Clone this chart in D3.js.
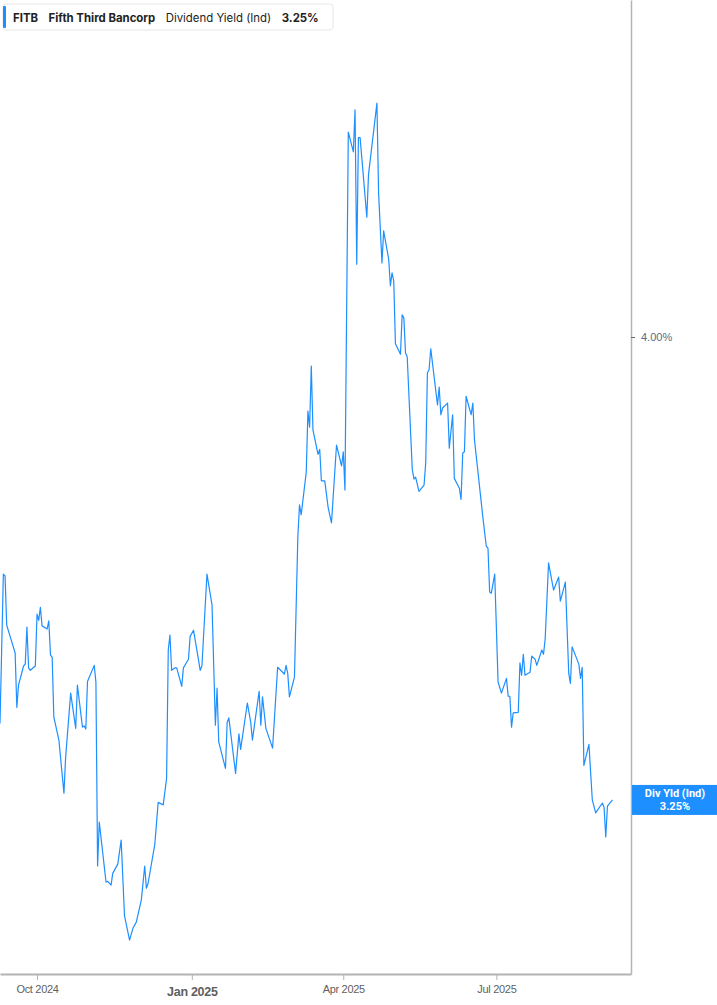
<!DOCTYPE html>
<html>
<head>
<meta charset="utf-8">
<script src="https://cdn.jsdelivr.net/npm/d3@7"></script>
<style>
  html, body { margin: 0; padding: 0; background: #fff; }
  svg { display: block; }
</style>
</head>
<body>
<div id="app"></div>
<script>
// FITB dividend yield (indicated), %
const DATES = [
  '2024-09-09','2024-09-11','2024-09-12','2024-09-13','2024-09-16','2024-09-18','2024-09-19','2024-09-20',
  '2024-09-23','2024-09-24','2024-09-25','2024-09-26','2024-09-27','2024-09-30','2024-10-01','2024-10-02',
  '2024-10-03','2024-10-04','2024-10-07','2024-10-08','2024-10-09','2024-10-10','2024-10-11','2024-10-14',
  '2024-10-17','2024-10-18','2024-10-21','2024-10-24','2024-10-25','2024-10-28','2024-10-29','2024-10-30',
  '2024-10-31','2024-11-04','2024-11-05','2024-11-06','2024-11-07','2024-11-11','2024-11-12','2024-11-14',
  '2024-11-15','2024-11-18','2024-11-20','2024-11-22','2024-11-25','2024-11-27','2024-11-29','2024-12-02',
  '2024-12-04','2024-12-05','2024-12-06','2024-12-10','2024-12-12','2024-12-15','2024-12-17','2024-12-18',
  '2024-12-19','2024-12-20','2024-12-22','2024-12-23','2024-12-26','2024-12-27','2024-12-30','2024-12-31',
  '2025-01-02','2025-01-06','2025-01-07','2025-01-10','2025-01-13','2025-01-15','2025-01-16','2025-01-17',
  '2025-01-21','2025-01-22','2025-01-23','2025-01-27','2025-01-29','2025-01-30','2025-02-03','2025-02-05',
  '2025-02-06','2025-02-10','2025-02-11','2025-02-12','2025-02-14','2025-02-18','2025-02-21','2025-02-25',
  '2025-02-26','2025-02-27','2025-02-28','2025-03-03','2025-03-05','2025-03-06','2025-03-07','2025-03-10',
  '2025-03-11','2025-03-12','2025-03-13','2025-03-14','2025-03-17','2025-03-18','2025-03-19','2025-03-21',
  '2025-03-23','2025-03-25','2025-03-28','2025-03-31','2025-04-01','2025-04-02','2025-04-04','2025-04-07',
  '2025-04-08','2025-04-09','2025-04-10','2025-04-11','2025-04-15','2025-04-16','2025-04-21','2025-04-22',
  '2025-04-24','2025-04-25','2025-04-28','2025-04-29','2025-04-30','2025-05-01','2025-05-02','2025-05-05',
  '2025-05-06','2025-05-07','2025-05-08','2025-05-09','2025-05-12','2025-05-13','2025-05-14','2025-05-16',
  '2025-05-19','2025-05-20','2025-05-21','2025-05-22','2025-05-23','2025-05-27','2025-05-28','2025-05-29',
  '2025-05-30','2025-06-02','2025-06-03','2025-06-05','2025-06-06','2025-06-09','2025-06-10','2025-06-11',
  '2025-06-12','2025-06-13','2025-06-16','2025-06-17','2025-06-18','2025-06-23','2025-06-25','2025-06-26',
  '2025-06-27','2025-06-28','2025-06-30','2025-07-02','2025-07-04','2025-07-07','2025-07-08','2025-07-09',
  '2025-07-10','2025-07-11','2025-07-14','2025-07-15','2025-07-16','2025-07-17','2025-07-18','2025-07-21',
  '2025-07-22','2025-07-24','2025-07-25','2025-07-28','2025-07-29','2025-07-30','2025-08-01','2025-08-04',
  '2025-08-07','2025-08-08','2025-08-11','2025-08-13','2025-08-14','2025-08-15','2025-08-19','2025-08-20',
  '2025-08-21','2025-08-22','2025-08-25','2025-08-27','2025-08-29','2025-09-02','2025-09-03','2025-09-04',
  '2025-09-05','2025-09-08'
];

const YIELDS = [
  3.374,3.616,3.613,3.533,3.506,3.488,3.400,3.436,
  3.467,3.470,3.530,3.464,3.460,3.467,3.551,3.541,
  3.562,3.532,3.527,3.540,3.485,3.481,3.384,3.347,
  3.261,3.319,3.423,3.366,3.436,3.368,3.370,3.365,
  3.442,3.468,3.441,3.143,3.214,3.117,3.118,3.112,
  3.131,3.146,3.185,3.062,3.023,3.042,3.052,3.088,
  3.143,3.107,3.115,3.178,3.246,3.242,3.285,3.493,
  3.517,3.460,3.464,3.464,3.434,3.464,3.478,3.515,
  3.525,3.460,3.467,3.616,3.566,3.371,3.431,3.344,
  3.301,3.376,3.383,3.293,3.357,3.332,3.407,3.376,
  3.347,3.426,3.371,3.417,3.366,3.334,3.465,3.454,
  3.468,3.455,3.417,3.449,3.676,3.728,3.712,3.781,
  3.880,3.854,3.953,3.849,3.810,3.818,3.767,3.767,
  3.724,3.699,3.825,3.791,3.814,3.752,4.332,4.300,
  4.368,4.118,4.323,4.323,4.194,4.263,4.379,4.233,
  4.120,4.172,4.126,4.083,4.104,4.091,3.989,3.972,
  4.036,4.031,3.974,3.968,3.786,3.770,3.773,3.750,
  3.760,3.796,3.942,3.947,3.981,3.890,3.919,3.874,
  3.885,3.893,3.820,3.874,3.771,3.755,3.737,3.812,
  3.814,3.904,3.874,3.893,3.833,3.707,3.661,3.658,
  3.587,3.585,3.616,3.441,3.423,3.447,3.418,3.418,
  3.368,3.391,3.392,3.472,3.452,3.486,3.452,3.457,
  3.483,3.478,3.468,3.493,3.486,3.511,3.634,3.590,
  3.611,3.572,3.603,3.455,3.439,3.498,3.470,3.447,
  3.465,3.306,3.340,3.250,3.229,3.245,3.238,3.190,
  3.240,3.250
];

const X_DOMAIN = ['2024-09-09', '2025-09-19'];
const Y_DOMAIN = [2.968, 4.546];
const X_TICKS = ['2024-10-01', '2025-01-01', '2025-04-01', '2025-07-01'];
const Y_TICKS = [4.0];

const LEGEND = [
  { text: 'FITB', weight: 700 },
  { text: 'Fifth Third Bancorp', weight: 700 },
  { text: 'Dividend Yield (Ind)', weight: 400 },
  { text: '3.25%', weight: 700 },
];

const W = 717, H = 1005;
const plotW = 631, plotH = 974;
const BLUE = '#1e8fff';

const parse = d3.utcParse('%Y-%m-%d');
const series = DATES.map((d, i) => ({ date: parse(d), value: YIELDS[i] }));

const x = d3.scaleUtc().domain(X_DOMAIN.map(parse)).range([0, plotW]);
const y = d3.scaleLinear().domain(Y_DOMAIN).range([plotH, 0]);

const svg = d3.select('#app').append('svg')
  .attr('width', W)
  .attr('height', H)
  .style('font-family', 'Roboto, sans-serif');

svg.append('defs').append('clipPath').attr('id', 'plot-clip')
  .append('rect').attr('width', plotW).attr('height', plotH);

// line
svg.append('path')
  .datum(series)
  .attr('clip-path', 'url(#plot-clip)')
  .attr('fill', 'none')
  .attr('stroke', BLUE)
  .attr('stroke-width', 1.2)
  .attr('stroke-linejoin', 'round')
  .attr('d', d3.line().x(d => x(d.date)).y(d => y(d.value)));

// bottom axis
const xAxis = svg.append('g')
  .attr('transform', `translate(0,${plotH})`)
  .call(d3.axisBottom(x)
    .tickValues(X_TICKS.map(parse))
    .tickSize(6)
    .tickSizeOuter(0)
    .tickPadding(4)
    .tickFormat(d3.utcFormat('%b %Y')));
xAxis.select('.domain').attr('stroke', '#b3b3b3').attr('stroke-width', 2);
xAxis.selectAll('.tick line').attr('stroke', '#b3b3b3');
xAxis.selectAll('.tick text')
  .attr('fill', '#5f5f5f')
  .style('font-size', '11px')
  .style('letter-spacing', '-0.3px')
  .attr('dy', '0.85em')
  .each(function(d) {
    if (d.getUTCMonth() === 0) {
      d3.select(this).style('font-weight', 700).style('font-size', '12.5px').attr('dy', '0.95em');
    }
  });

// right axis
const yAxis = svg.append('g')
  .attr('transform', `translate(${plotW},0)`)
  .call(d3.axisRight(y)
    .tickValues(Y_TICKS)
    .tickSize(4)
    .tickSizeOuter(0)
    .tickPadding(6)
    .tickFormat(d => d3.format('.2f')(d) + '%'));
yAxis.select('.domain').attr('stroke', '#b3b3b3').attr('stroke-width', 1.5);
yAxis.selectAll('.tick line').attr('stroke', '#666');
yAxis.selectAll('.tick text')
  .attr('fill', '#5b6b82')
  .style('font-size', '11px');

// last value label
const last = series[series.length - 1];
const tag = svg.append('g').attr('transform', `translate(${plotW + 1},${y(last.value)})`);
tag.append('rect')
  .attr('x', 0).attr('y', -15)
  .attr('width', W - plotW - 1).attr('height', 30)
  .attr('fill', BLUE);
tag.append('text')
  .attr('x', (W - plotW) / 2).attr('y', -3)
  .attr('text-anchor', 'middle')
  .attr('fill', '#fff')
  .style('font-size', '11px')
  .style('font-weight', 700)
  .text('Div Yld (Ind)');
tag.append('text')
  .attr('x', (W - plotW) / 2).attr('y', 10)
  .attr('text-anchor', 'middle')
  .attr('fill', '#fff')
  .style('font-size', '11px')
  .style('font-weight', 700)
  .text(d3.format('.2f')(last.value) + '%');

// legend box
const legend = svg.append('g').attr('transform', 'translate(3,4)');
legend.append('rect')
  .attr('width', 330).attr('height', 26)
  .attr('rx', 3)
  .attr('fill', '#fff')
  .attr('stroke', '#e6e6e6');
legend.append('rect')
  .attr('x', 0).attr('y', 2)
  .attr('width', 3).attr('height', 22)
  .attr('rx', 1)
  .attr('fill', BLUE);
let lx = 10;
LEGEND.forEach(item => {
  const t = legend.append('text')
    .attr('x', lx).attr('y', 17.5)
    .attr('fill', '#222')
    .style('font-family', 'Inter, sans-serif')
    .style('font-size', '11.4px')
    .style('font-weight', item.weight)
    .text(item.text);
  lx += t.node().getComputedTextLength() + 10.5;
});
</script>
</body>
</html>
